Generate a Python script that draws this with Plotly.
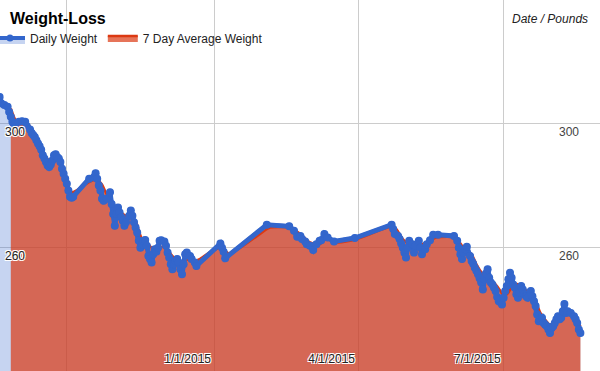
import plotly.graph_objects as go

# ---------------- data ----------------
daily_dates = [
    "2014-08-20", "2014-08-21", "2014-08-23", "2014-08-25", "2014-08-26", "2014-08-27", "2014-08-28",
    "2014-08-29", "2014-08-30", "2014-09-01", "2014-09-03", "2014-09-05", "2014-09-06", "2014-09-08",
    "2014-09-09", "2014-09-10", "2014-09-11", "2014-09-12", "2014-09-13", "2014-09-14", "2014-09-15",
    "2014-09-16", "2014-09-17", "2014-09-18", "2014-09-19", "2014-09-20", "2014-09-21", "2014-09-22",
    "2014-09-23", "2014-09-24", "2014-09-25", "2014-09-26", "2014-09-27", "2014-09-28", "2014-09-29",
    "2014-09-30", "2014-10-01", "2014-10-02", "2014-10-03", "2014-10-04", "2014-10-05",
    "2014-10-15", "2014-10-18", "2014-10-19", "2014-10-20", "2014-10-21", "2014-10-22", "2014-10-23",
    "2014-10-24", "2014-10-26", "2014-10-28", "2014-10-29", "2014-10-30", "2014-10-31",
    "2014-11-01", "2014-11-02", "2014-11-03", "2014-11-04", "2014-11-05", "2014-11-06", "2014-11-07",
    "2014-11-09", "2014-11-10", "2014-11-11", "2014-11-12", "2014-11-13", "2014-11-14", "2014-11-15",
    "2014-11-16", "2014-11-17", "2014-11-18", "2014-11-19", "2014-11-20", "2014-11-21", "2014-11-22",
    "2014-11-23", "2014-11-24", "2014-11-25", "2014-11-26", "2014-11-27", "2014-11-28", "2014-11-29",
    "2014-12-01", "2014-12-02", "2014-12-03", "2014-12-04", "2014-12-05", "2014-12-06", "2014-12-07",
    "2014-12-08", "2014-12-09", "2014-12-10", "2014-12-11", "2014-12-12", "2014-12-13", "2014-12-14",
    "2014-12-15", "2014-12-17", "2014-12-18", "2014-12-20", "2014-12-21",
    "2015-01-05", "2015-01-06", "2015-01-07", "2015-01-08",
    "2015-02-03", "2015-02-17", "2015-02-20", "2015-02-22", "2015-02-24", "2015-02-25", "2015-02-27",
    "2015-02-28", "2015-03-02", "2015-03-04", "2015-03-06", "2015-03-08", "2015-03-09", "2015-03-11",
    "2015-03-13", "2015-03-17", "2015-03-30",
    "2015-04-22", "2015-04-23", "2015-04-24", "2015-04-26", "2015-04-27", "2015-04-28", "2015-04-29",
    "2015-04-30", "2015-05-01", "2015-05-02", "2015-05-03", "2015-05-05", "2015-05-06", "2015-05-07",
    "2015-05-09", "2015-05-10", "2015-05-11", "2015-05-13", "2015-05-14", "2015-05-16", "2015-05-18",
    "2015-05-21", "2015-05-31",
    "2015-06-02", "2015-06-03", "2015-06-04", "2015-06-05", "2015-06-06", "2015-06-07", "2015-06-08",
    "2015-06-10", "2015-06-11", "2015-06-12", "2015-06-13", "2015-06-14", "2015-06-15", "2015-06-16",
    "2015-06-17", "2015-06-18", "2015-06-19", "2015-06-20", "2015-06-21", "2015-06-22", "2015-06-23",
    "2015-06-24", "2015-06-25", "2015-06-26", "2015-06-27", "2015-06-28", "2015-06-29", "2015-06-30",
    "2015-07-01", "2015-07-02", "2015-07-03", "2015-07-04", "2015-07-05", "2015-07-06", "2015-07-07",
    "2015-07-08", "2015-07-09", "2015-07-10", "2015-07-11", "2015-07-12", "2015-07-13", "2015-07-14",
    "2015-07-15", "2015-07-16", "2015-07-18", "2015-07-19", "2015-07-20", "2015-07-21", "2015-07-22",
    "2015-07-23", "2015-07-24", "2015-07-25", "2015-07-26", "2015-07-27", "2015-07-28", "2015-07-29",
    "2015-07-30", "2015-07-31", "2015-08-01", "2015-08-02", "2015-08-03", "2015-08-04", "2015-08-05",
    "2015-08-06", "2015-08-07", "2015-08-08", "2015-08-09", "2015-08-10", "2015-08-12", "2015-08-14",
    "2015-08-15", "2015-08-16", "2015-08-17", "2015-08-18",
]
daily_weight = [
    308.6, 306.6, 306.0, 305.5, 303.8, 302.2, 300.6,
    299.5, 300.1, 300.6, 300.8, 300.6, 299.2, 298.1,
    297.0, 296.3, 295.7, 294.6, 293.6, 292.7, 291.6,
    289.8, 288.7, 287.6, 286.5, 286.0, 286.8, 288.1,
    289.8, 290.1, 289.2, 288.7, 287.6, 285.4, 283.8,
    282.2, 280.6, 278.4, 276.4, 276.0, 276.4,
    282.2, 282.7, 284.0, 282.2, 280.0, 278.4, 275.7,
    275.1, 275.7, 277.8, 274.0, 270.8, 267.0,
    270.8, 272.9, 271.3, 269.7, 268.6, 267.0, 268.1,
    270.2, 271.9, 270.2, 268.1, 266.4, 264.8, 262.1,
    259.9, 261.0, 262.1, 262.4, 260.5, 257.2, 256.2,
    255.1, 257.8, 259.4, 258.6, 259.9, 262.1, 262.3,
    261.9, 260.5, 258.3, 256.7, 254.5, 252.9, 254.5,
    255.6, 256.2, 255.1, 252.9, 251.3, 254.5, 257.8,
    258.3, 257.2, 256.2, 255.1, 254.0,
    261.2, 259.9, 258.6, 256.5,
    267.3, 266.8, 265.4, 263.4, 263.7, 262.7, 261.9,
    261.0, 260.5, 259.1, 261.0, 262.1, 262.3, 264.3,
    263.2, 261.9, 263.0,
    267.3, 265.9, 264.3, 263.7, 262.7, 261.2, 259.9,
    258.3, 256.7, 259.9, 262.1, 261.0, 258.3, 260.5,
    262.1, 259.9, 257.8, 259.4, 261.0, 262.3, 264.1,
    264.1, 263.7,
    262.1, 259.9, 257.8, 256.2, 258.3, 259.4, 260.2,
    257.2, 255.6, 254.7, 253.4, 252.4, 251.3, 250.0,
    248.6, 246.4, 249.7, 251.5, 252.9, 250.2, 248.6,
    248.0, 246.9, 245.9, 243.9, 242.6, 243.2, 241.5,
    243.7, 245.9, 247.5, 249.7, 251.8, 250.2, 248.0,
    246.9, 244.8, 243.7, 245.3, 247.5, 246.4, 244.8,
    244.2, 243.7, 245.9, 244.2, 242.6, 241.0, 238.3,
    236.1, 236.7, 237.2, 235.5, 235.0, 234.5, 233.4,
    232.3, 233.9, 234.5, 235.5, 236.7, 237.7, 236.7,
    237.2, 239.3, 241.7, 238.8, 239.3, 238.8, 237.7,
    236.7, 235.5, 233.4, 232.3,
]

avg_dates = [
    "2014-08-27", "2014-08-30", "2014-09-02", "2014-09-06", "2014-09-09", "2014-09-12", "2014-09-15",
    "2014-09-18", "2014-09-20", "2014-09-24", "2014-09-27", "2014-09-30", "2014-10-02", "2014-10-04",
    "2014-10-07", "2014-10-15", "2014-10-20", "2014-10-23", "2014-10-26", "2014-10-30", "2014-11-02",
    "2014-11-05", "2014-11-09", "2014-11-13", "2014-11-15", "2014-11-17", "2014-11-20", "2014-11-23",
    "2014-11-27", "2014-12-01", "2014-12-05", "2014-12-08", "2014-12-12", "2014-12-16", "2014-12-20",
    "2014-12-23", "2014-12-29", "2015-01-05", "2015-01-08", "2015-01-11", "2015-02-03", "2015-02-05",
    "2015-02-17", "2015-02-24", "2015-03-02", "2015-03-06", "2015-03-08", "2015-03-12", "2015-03-19",
    "2015-04-01", "2015-04-22", "2015-04-25", "2015-04-29", "2015-05-03", "2015-05-10", "2015-05-16",
    "2015-05-18", "2015-05-21", "2015-06-01", "2015-06-05", "2015-06-08", "2015-06-11", "2015-06-14",
    "2015-06-18", "2015-06-21", "2015-06-26", "2015-06-29", "2015-07-01", "2015-07-04", "2015-07-07",
    "2015-07-11", "2015-07-14", "2015-07-18", "2015-07-21", "2015-07-24", "2015-07-27", "2015-07-30",
    "2015-08-02", "2015-08-05", "2015-08-08", "2015-08-13", "2015-08-16", "2015-08-18",
]
avg_weight = [
    304.9, 301.1, 300.1, 300.1, 298.4, 295.7, 292.5,
    289.2, 288.1, 288.7, 287.6, 283.8, 279.4, 277.8,
    278.4, 281.1, 281.9, 280.3, 277.1, 274.0, 272.4,
    270.8, 269.7, 268.6, 265.4, 262.7, 261.6, 259.9,
    259.4, 260.5, 257.8, 256.2, 255.1, 256.2, 255.6,
    256.2, 258.3, 259.9, 258.9, 257.9, 265.9, 266.4,
    266.4, 264.3, 261.6, 261.0, 261.0, 262.7, 261.6,
    262.8, 266.7, 265.9, 262.7, 261.0, 261.0, 261.6,
    262.7, 263.3, 263.2, 260.5, 258.9, 257.8, 254.5,
    251.3, 249.7, 248.0, 245.9, 244.2, 245.3, 248.0,
    248.0, 246.4, 245.3, 242.6, 238.8, 236.6, 235.0,
    236.1, 237.7, 238.8, 238.8, 236.6, 234.5,
]

x_tick_dates = ["2014-10-01", "2015-01-01", "2015-04-01", "2015-07-01"]
x_tick_text = ["", "1/1/2015", "4/1/2015", "7/1/2015"]
y_tick_vals = [220, 260, 300, 340]
y_tick_text = ["", "260", "300", ""]

# ---------------- styling ----------------
FONT = "Liberation Sans, Arial, sans-serif"
HALO = "1px 1px 0 #fff, -1px -1px 0 #fff, 1px -1px 0 #fff, -1px 1px 0 #fff"
BLUE = "#3366cc"
RED = "#dc3912"

fig = go.Figure()

fig.add_trace(go.Scatter(
    x=daily_dates, y=daily_weight, name="Daily Weight",
    mode="lines+markers", fill="tozeroy", fillcolor="rgba(51,102,204,0.28)",
    line=dict(color=BLUE, width=4), marker=dict(color=BLUE, size=7),
))
fig.add_trace(go.Scatter(
    x=avg_dates, y=avg_weight, name="7 Day Average Weight",
    mode="lines", fill="tozeroy", fillcolor="rgba(220,57,18,0.70)",
    line=dict(color=RED, width=2.5, shape="spline", smoothing=0.6),
))
fig.add_trace(go.Scatter(
    x=daily_dates, y=daily_weight, yaxis="y2", showlegend=False,
    mode="lines+markers", line=dict(color=BLUE, width=5),
    marker=dict(color=BLUE, size=8),
))

fig.update_layout(
    width=600, height=371,
    margin=dict(l=0, r=0, t=0, b=0, autoexpand=False),
    paper_bgcolor="white", plot_bgcolor="white",
    font=dict(family=FONT, size=12, color="#222"),
    hovermode=False,
    title=dict(text="<b>Weight-Loss</b>", x=10 / 600, xanchor="left",
               y=1 - 18 / 371, yanchor="middle",
               font=dict(family=FONT, size=16, color="#000")),
    legend=dict(orientation="h", x=-10 / 600, xanchor="left",
                y=1 - 38 / 371, yanchor="middle",
                bgcolor="rgba(0,0,0,0)", font=dict(family=FONT, size=12, color="#222")),
    xaxis=dict(type="date", range=["2014-08-20 06:00", "2015-08-30 06:00"],
               tickmode="array", tickvals=x_tick_dates, ticktext=x_tick_text,
               ticklabelposition="inside left", ticks="", ticklabelshift=-3,
               showgrid=True, gridcolor="#cccccc", gridwidth=1,
               zeroline=False, showline=False,
               tickfont=dict(family=FONT, size=12, color="#222", shadow=HALO)),
    yaxis=dict(range=[220, 340], tickmode="array", tickvals=y_tick_vals, ticktext=y_tick_text,
               ticklabelposition="inside bottom", ticks="", ticklabelstandoff=2,
               showgrid=True, gridcolor="#cccccc", gridwidth=1,
               zeroline=False, showline=False,
               tickfont=dict(family=FONT, size=12, color="#222", shadow=HALO)),
    yaxis2=dict(range=[220, 340], overlaying="y", side="right", matches="y",
                tickmode="array", tickvals=y_tick_vals, ticktext=y_tick_text,
                ticklabelposition="inside bottom", ticks="", ticklabelstandoff=18,
                showgrid=False, zeroline=False, showline=False,
                tickfont=dict(family=FONT, size=12, color="#444", shadow=HALO)),
    annotations=[dict(text="<i>Date / Pounds</i>", xref="paper", yref="paper",
                      x=1 - 10 / 600, y=1 - 19 / 371, xanchor="right", yanchor="middle",
                      showarrow=False, font=dict(family=FONT, size=12, color="#222"))],
)

fig.write_html("out.html", config={"displayModeBar": False, "staticPlot": True},
               post_script="document.body.style.margin='0';document.body.style.padding='0';")
